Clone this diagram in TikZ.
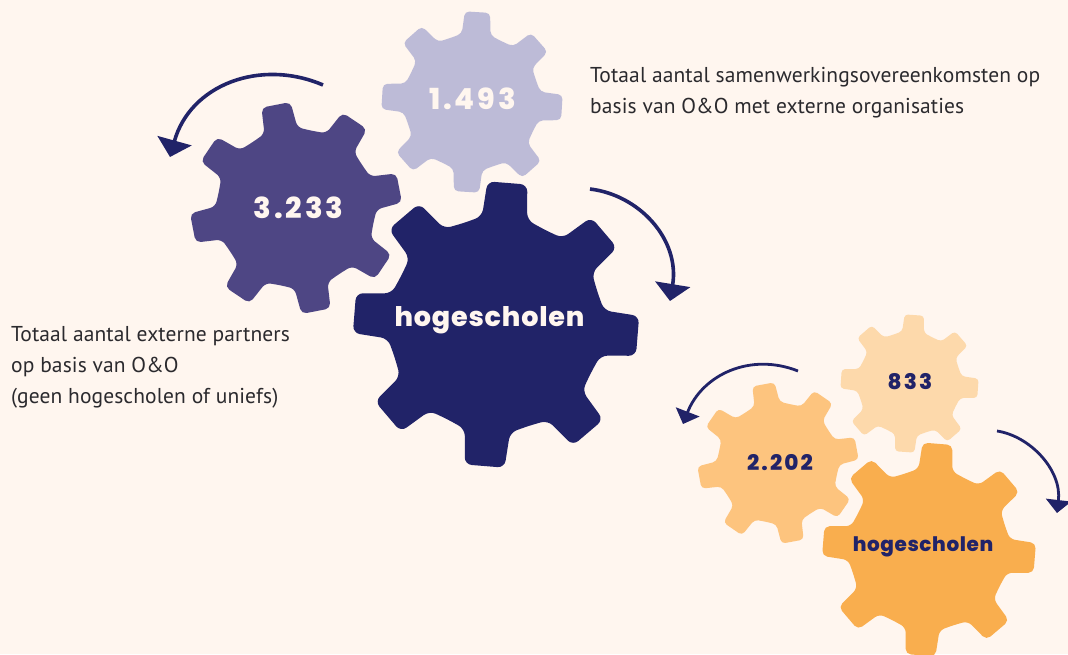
\documentclass[tikz,border=0pt]{standalone}
\usepackage{fontspec}
\usetikzlibrary{arrows.meta}
\setmainfont{PT Sans}
\newfontfamily\gearfont[LetterSpace=3]{Poppins ExtraBold}
\newfontfamily\numfont[LetterSpace=10]{Poppins ExtraBold}
\newfontfamily\bodyfont[LetterSpace=0.45]{PT Sans}
\definecolor{bgc}{HTML}{FFF6EF}
\definecolor{navy}{HTML}{212368}
\definecolor{purp}{HTML}{4E4684}
\definecolor{lilac}{HTML}{BDBBD7}
\definecolor{orA}{HTML}{F9AE4E}
\definecolor{orB}{HTML}{FDC47E}
\definecolor{orC}{HTML}{FDD9AB}
\definecolor{inkc}{HTML}{2B2A2E}
\tikzset{
  gearlabel/.style={inner sep=0pt},
  bodytext/.style={inner sep=0pt,anchor=north west,align=left,text=inkc,font=\bodyfont\fontsize{21.5}{31}\selectfont},
  turn/.style={navy,line width=3.6pt,-{Triangle[length=17pt,width=35pt]}},
  turnsmall/.style={navy,line width=2.8pt,-{Triangle[length=13pt,width=25pt]}}
}
% \gear{name}{cx}{cy}{scale}{rot, clockwise on the page}{colour}
\newcommand{\geartooth}[1]{
  -- (#1-12:109) -- (#1-8:143.4) -- (#1+8:143.4) -- (#1+12:109) -- (#1+22.5:106.5)
}
\newcommand{\gear}[6]{
  \begin{scope}[shift={(#2,#3)},rotate=-#5,scale=#4]
    \fill[#6,rounded corners=#4*7pt] (-22.5:106.5)
      \geartooth{0} \geartooth{45} \geartooth{90} \geartooth{135}
      \geartooth{180} \geartooth{225} \geartooth{270}
      -- (303:109) -- (307:143.4) -- (323:143.4) -- (327:109) -- cycle;
  \end{scope}
  \coordinate (#1) at (#2,#3);
}
\begin{document}
\begin{tikzpicture}[x=1pt,y=-1pt]
\useasboundingbox (0,0) rectangle (1068,654);
\fill[bgc] (0,0) rectangle (1068,654);
\clip (0,0) rectangle (1068,654);

\gear{g1}{472}{102}{0.634}{3.5}{lilac}
\gear{g2}{296}{208}{0.74}{-11}{purp}
\gear{g3}{496}{324.5}{1}{4.6}{navy}
\gear{g4}{909.5}{383.5}{0.483}{4}{orC}
\gear{g5}{778}{463}{0.563}{-10.5}{orB}
\gear{g6}{929}{549.5}{0.747}{4.6}{orA}

\node[gearlabel,text=bgc,font=\numfont\fontsize{29}{29}\selectfont] (t1) at (472.5,99) {1.493};
\node[gearlabel,text=bgc,font=\numfont\fontsize{29}{29}\selectfont] (t2) at (298.5,208) {3.233};
\node[gearlabel,text=bgc,font=\gearfont\fontsize{27}{27}\selectfont] (t3) at (489.5,320) {hogescholen};
\node[gearlabel,text=navy,font=\numfont\fontsize{21.5}{21.5}\selectfont] (t4) at (910,382) {833};
\node[gearlabel,text=navy,font=\numfont\fontsize{21.5}{21.5}\selectfont] (t5) at (780,463) {2.202};
\node[gearlabel,text=navy,font=\gearfont\fontsize{20}{20}\selectfont] (t6) at (923,546.5) {hogescholen};

\node[bodytext] (d1) at (590,67) {Totaal aantal samenwerkingsovereenkomsten op\\basis van O\&O met externe organisaties};
\node[bodytext] (d2) at (11,326.5) {Totaal aantal externe partners\\op basis van O\&O\\(geen hogescholen of uniefs)};

\coordinate (a1s) at (590,189);
\coordinate (a1e) at (670,301);
\coordinate (a2s) at (323,85);
\coordinate (a2e) at (170,157);
\coordinate (a3s) at (798,371);
\coordinate (a3e) at (683,424);
\coordinate (a4s) at (997,431);
\coordinate (a4e) at (1057,513);
\draw[turn] (a1s) .. controls (640,195) and (680,240) .. (a1e);
\draw[turn] (a2s) .. controls (260,58) and (190,85) .. (a2e);
\draw[turnsmall] (a3s) .. controls (750,352) and (702,375) .. (a3e);
\draw[turnsmall] (a4s) .. controls (1030,436) and (1062,470) .. (a4e);
\end{tikzpicture}
\end{document}
